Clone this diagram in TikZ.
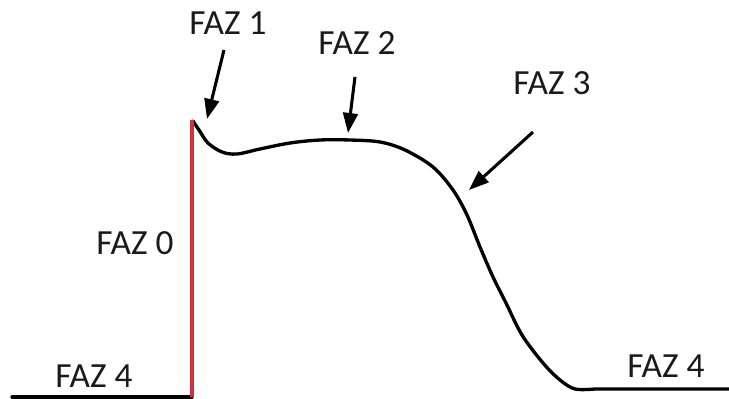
\documentclass[tikz,border=0pt]{standalone}
\usepackage{fontspec}
\setmainfont{Carlito}
\usetikzlibrary{arrows.meta}
\definecolor{phasered}{HTML}{D0303A}
\definecolor{labelcol}{HTML}{1A1A1A}
\tikzset{
  lbl/.style={text=labelcol, font=\fontsize{26.5}{30}\selectfont, inner sep=0pt},
  curve/.style={line width=2.5pt, black, line join=round, line cap=round},
  ptr/.style={line width=2.3pt, black, -{Triangle[length=15pt,width=11pt]}},
}
\begin{document}
\begin{tikzpicture}[x=0.75pt,y=-0.75pt]
\useasboundingbox (0,0) rectangle (729,399);
% labels
\node[lbl] (f1) at (228,23) {FAZ 1};
\node[lbl] (f2) at (357,43) {FAZ 2};
\node[lbl] (f3) at (552,83) {FAZ 3};
\node[lbl] (f0) at (135,243) {FAZ 0};
\node[lbl] (f4a) at (94,376) {FAZ 4};
\node[lbl] (f4b) at (666,366) {FAZ 4};
% baseline
\coordinate (b0) at (12,397);
\coordinate (b1) at (192,397);
\coordinate (top) at (192,120);
\draw[curve] (b0) -- (b1);
% action potential curve
\draw[curve] plot[smooth, tension=0.55] coordinates {
 (193,121) (199,130) (208,143) (222,152) (237,154) (260,149) (290,143)
 (320,140) (350,140) (380,142) (405,150) (433,167) (453,190) (467,215)
 (480,247) (493,277) (506,303) (522,335) (543,363) (560,380) (575,389) (595,389)}
 -- (729,389);
% phase 0 upstroke
\draw[phasered, line width=3pt] (b1) -- (top);
% arrows
\coordinate (a1s) at (224,50);  \coordinate (a1e) at (207,119);
\coordinate (a2s) at (355,77);  \coordinate (a2e) at (348,133);
\coordinate (a3s) at (533,132); \coordinate (a3e) at (469,190);
\draw[ptr] (a1s) -- (a1e);
\draw[ptr] (a2s) -- (a2e);
\draw[ptr] (a3s) -- (a3e);
\end{tikzpicture}
\end{document}
